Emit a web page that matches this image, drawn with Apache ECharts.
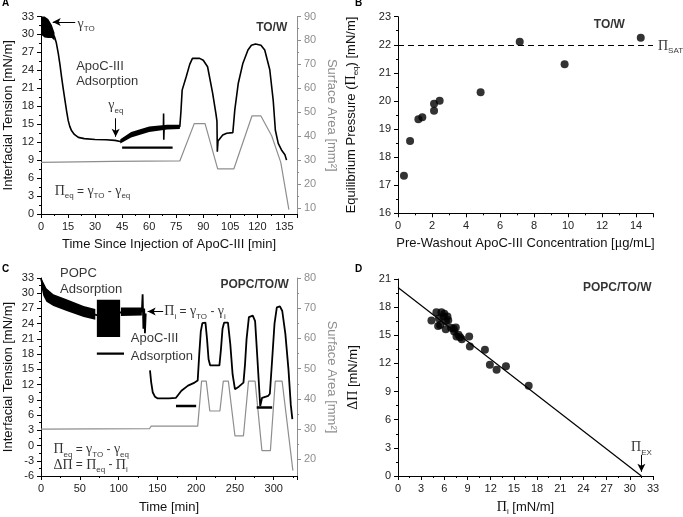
<!DOCTYPE html>
<html><head><meta charset="utf-8">
<script src="https://cdn.jsdelivr.net/npm/echarts/dist/echarts.min.js"></script>
<style>html,body{margin:0;padding:0;background:#fff}#c{width:683px;height:517px}</style>
</head><body><div id="c"></div>
<script>
// ---------------- DATA ----------------
// Panel A: interfacial tension [mN/m] vs time [min]
const tensionA = [[0,31.5],[2,31.2],[4,30.8],[6,30.3],[7.5,29.6],[8.5,28.6],[9.6,26.8],[10.5,25],[11.4,22.9],[12.3,21],[13.3,19],[14.2,17.2],[15.1,15.6],[16,14.6],[17,13.9],[18.5,13.3],[20.7,12.8],[24,12.6],[30,12.45],[36,12.4],[41,12.3],[44,12.1],[46,12.4],[49,13.0],[52,13.4],[56,13.8],[61,14.1],[66,14.3],[67.9,14.4],[68,16.8],[68.1,12.4],[68.3,14.4],[72,14.5],[77,14.6],[77.6,17],[78.3,20.7],[80.5,22.9],[82.5,25],[84,26],[88,26],[90,25.7],[92.4,24.6],[95.2,20.2],[97,16.8],[97.6,15.5],[97.8,10.4],[98.2,12.2],[100.8,13.2],[103,13.5],[106.4,13.6],[107.5,17.4],[109.4,21.8],[112,25.2],[114.8,27.4],[116.7,28.2],[119,28.4],[122,28.2],[124.1,27.4],[126.9,24.1],[128.8,19.0],[130,14.0],[131.6,11.8],[133.4,10.7],[135.3,9.9],[136.2,9.0]];
// noise envelopes [time, low, high]
const noiseA1 = [[0,30,33],[2,29.5,33],[4,29.4,32.6],[6,29.4,31.6],[7.5,29,30.3]];
const noiseA2 = [[44,11.8,12.5],[50,12.8,13.7],[60,13.7,14.6],[70,14.1,14.9],[77,14.2,14.9]];
// surface area [mm^2] vs time
const areaA = [[0,29],[40,29.4],[77,29.6],[85,45.2],[91,45.2],[98,26.3],[107,26.3],[117,48.4],[122,48.4],[128,40],[133,29],[137.5,9.2]];
const barA = [[45,11.1],[73,11.1]];

// Panel B: equilibrium pressure vs pre-washout concentration
const pressureB = [[0.35,17.34],[0.71,18.57],[1.2,19.35],[1.43,19.42],[2.12,19.65],[2.12,19.90],[2.45,20.01],[4.86,20.31],[7.16,22.11],[9.8,21.31],[14.28,22.25]];
const piSat = 22;

// Panel C: interfacial tension vs time
const tensionC = [[0,32.9],[3,31.0],[7.4,29.7],[16,28.7],[33,27.7],[55,26.4],[72,25.7],[102,26.2],[115,26.3],[130,26.4],[131,29.8],[132,23],[133,27],[134,22.1],[135,26],[136,null],[140.5,14.8],[142,12.5],[144,10.5],[147,9.6],[150,9.3],[165,9.3],[174,9.4],[178,10.2],[181,10.8],[189.5,11.8],[198,12.4],[202,12.8],[204,18],[206,22.5],[208,24.1],[212,24.2],[214,21],[216,17],[218,15.8],[230,15.8],[232,19],[234,23],[236,24.2],[241,24.2],[244,20],[247,14],[250,11.1],[255,11.6],[261,12.4],[263,16],[265,21],[268,25.3],[273,25.6],[276,24.5],[279,17],[282.6,7.8],[285,9.4],[293,9.8],[295,10.2],[298,17],[301,24],[304,27.2],[308,27.4],[311,26.5],[315,22],[319,15],[322,8],[324,5.2]];
const noiseC1 = [[0,31.5,33],[3,29.5,32.2],[7,28.3,31],[16,27.5,29.8],[33,26.5,28.8],[55,25.3,27.5],[70,24.8,26.9]];
const noiseC2 = [[72,21.4,28.7],[102,21.4,28.7]];
const noiseC3 = [[103,25.5,27.2],[130,25.6,27.2]];
const areaC = [[0,30],[140,30.2],[142,31],[202,31],[207,45.9],[213,45.9],[217.6,36],[230.6,36],[235,45.9],[241.5,45.9],[250,27.8],[261,27.8],[267.5,45.9],[276,45.9],[284.8,22.9],[295.7,22.9],[302,45.9],[310.8,45.9],[324.7,16.3]];
const barC1 = [[72,107],[18.1,18.1]];
const barC2 = [[174,200],[7.8,7.8]];
const barC3 = [[278,298],[7.5,7.5]];

// Panel D: delta Pi vs Pi_i
const deltaD = [[4.33,16.57],[4.97,17.46],[5.62,17.46],[5.19,16.0],[5.45,16.1],[5.3,16.8],[5.9,17.0],[6.0,17.3],[6.2,16.5],[6.5,16.6],[6.4,17.0],[6.18,15.65],[6.87,15.8],[7.2,15.7],[7.48,15.83],[7.26,15.4],[7.57,14.87],[7.83,15.05],[8.05,14.8],[8.26,14.59],[9.21,14.87],[9.3,13.81],[11.25,13.46],[11.89,11.86],[12.76,11.33],[13.97,11.69],[16.91,9.63]];
const fitD = [[0,20.1],[31.5,0]];

// tick labels for the right (surface area) axes
const areaTicksA = [10,20,30,40,50,60,70,80,90];
const areaMinorA = [15,25,35,45,55,65,75,85];
const areaTicksC = [20,30,40,50,60,70,80];
const areaMinorC = [25,35,45,55,65,75];

// ---------------- STYLE ----------------
const SANS = '"Liberation Sans", Arial, sans-serif';
const SERIF = '"Liberation Serif", "DejaVu Serif", serif';
const GRAY = '#8e8e8e';
const RICH = {
  g:{fontFamily:SERIF,fontSize:14,lineHeight:18,color:'#000'},
  t:{fontFamily:SANS,fontSize:12,lineHeight:18,color:'#000'},
  s:{fontFamily:SANS,fontSize:8,lineHeight:9,verticalAlign:'bottom',color:'#000'},
  b:{fontFamily:SANS,fontSize:12,fontWeight:'bold',lineHeight:18,color:'#000'}
};
const NRICH = {
  g:{fontFamily:SERIF,fontSize:14,lineHeight:18,color:'#111'},
  s:{fontFamily:SANS,fontSize:8,lineHeight:9,verticalAlign:'bottom',color:'#111'}
};

function merge(a,b){
  const o = Array.isArray(a)?a.slice():Object.assign({},a);
  for(const k in b){
    if(b[k] && typeof b[k]==='object' && !Array.isArray(b[k]) && a[k] && typeof a[k]==='object' && !Array.isArray(a[k])) o[k]=merge(a[k],b[k]);
    else o[k]=b[k];
  }
  return o;
}
function axis(o){
  return merge({
    type:'value', scale:false,
    axisLine:{show:true,onZero:false,lineStyle:{color:'#000',width:1}},
    axisTick:{show:true,inside:false,length:4,lineStyle:{color:'#000',width:1}},
    minorTick:{show:true,splitNumber:2,length:2,lineStyle:{color:'#000',width:1}},
    splitLine:{show:false}, minorSplitLine:{show:false},
    axisLabel:{fontFamily:SANS,fontSize:11,color:'#222',margin:7},
    nameLocation:'middle', nameMoveOverlap:false,
    nameTextStyle:{fontFamily:SANS,fontSize:13,color:'#111',lineHeight:18,rich:NRICH}
  }, o);
}
function grayAxis(o){
  return axis(merge({
    position:'right',
    axisLine:{lineStyle:{color:GRAY}},
    axisTick:{lineStyle:{color:GRAY}},
    minorTick:{show:false},
    axisLabel:{color:GRAY},
    nameRotate:-90,
    nameTextStyle:{color:GRAY}
  }, o));
}
function ghostAxis(o){
  return axis(merge({
    position:'right', axisLine:{show:false}, axisLabel:{show:false},
    minorTick:{show:false}, axisTick:{length:2,lineStyle:{color:GRAY}}
  }, o));
}
function line(xi,yi,data,color,width,extra){
  return merge({type:'line',xAxisIndex:xi,yAxisIndex:yi,data:data,showSymbol:false,symbol:'none',
    connectNulls:false,clip:false,silent:true,lineStyle:{color:color,width:width},z:3}, extra||{});
}
function band(xi,yi,env){
  return {type:'custom',xAxisIndex:xi,yAxisIndex:yi,data:[[env[0][0],env[0][1]]],silent:true,z:2,
    renderItem:function(params,api){
      const up = env.map(r=>api.coord([r[0],r[2]]));
      const lo = env.map(r=>api.coord([r[0],r[1]])).reverse();
      return {type:'polygon',shape:{points:up.concat(lo)},style:{fill:'#000'}};
    }};
}
function note(xi,yi,x,y,text,pos,lab,extra){
  return merge({type:'scatter',xAxisIndex:xi,yAxisIndex:yi,symbolSize:0,silent:true,clip:false,z:10,
    data:[[x,y]],
    label:merge({show:true,position:pos||'inside',distance:0,formatter:text,rich:RICH,
      fontFamily:SANS,fontSize:12,color:'#000',lineHeight:18}, lab||{})}, extra||{});
}
function arrows(list){
  return {silent:true,symbol:['none','arrow'],symbolSize:[6,8],label:{show:false},emphasis:{disabled:true},
    lineStyle:{color:'#000',width:1,type:'solid'},
    data:list.map(p=>[{coord:p[0]},{coord:p[1]}])};
}
const zip = (xs,ys)=>xs.map((x,i)=>[x,ys[i]]);

// ---------------- OPTION ----------------
const letter = (t,l,tp)=>({text:t,left:l,top:tp,padding:0,textStyle:{fontFamily:SANS,fontSize:10,fontWeight:'bold',color:'#000'}});

const option = {
  animation:false,
  backgroundColor:'#fff',
  title:[letter('A',2,-2),letter('B',355,-2),letter('C',2,264),letter('D',355,264)],
  grid:[
    {left:41,top:16.5,width:256,height:197.5,outerBoundsMode:'none',containLabel:false},
    {left:398,top:16.7,width:255,height:196.6,outerBoundsMode:'none',containLabel:false},
    {left:41,top:278,width:256,height:198,outerBoundsMode:'none',containLabel:false},
    {left:398,top:279,width:255,height:197,outerBoundsMode:'none',containLabel:false}
  ],
  xAxis:[
    axis({gridIndex:0,min:0,max:142,interval:15,axisLabel:{showMaxLabel:false},name:'Time Since Injection of ApoC-III [min]',nameGap:21}),
    axis({gridIndex:1,min:0,max:15,interval:2,axisLabel:{showMaxLabel:false},name:'Pre-Washout ApoC-III Concentration [{g|μ}g/mL]',nameGap:21}),
    axis({gridIndex:2,min:0,max:330,interval:50,axisLabel:{showMaxLabel:false},name:'Time [min]',nameGap:22}),
    axis({gridIndex:3,min:0,max:33,interval:3,name:'{g|Π}{s|i} [mN/m]',nameGap:22})
  ],
  yAxis:[
    axis({gridIndex:0,min:0,max:33,interval:3,name:'Interfacial Tension [mN/m]',nameGap:24}),
    grayAxis({gridIndex:0,min:7.4,max:90,axisLabel:{customValues:areaTicksA},axisTick:{customValues:areaTicksA},name:'Surface Area [mm²]',nameGap:26}),
    axis({gridIndex:1,min:16,max:23,interval:1,name:'Equilibrium Pressure ({g|Π}{s|eq}) [mN/m]',nameGap:38}),
    axis({gridIndex:2,min:-6,max:33,interval:3,name:'Interfacial Tension [mN/m]',nameGap:24}),
    grayAxis({gridIndex:2,min:14.5,max:80,axisLabel:{customValues:areaTicksC},axisTick:{customValues:areaTicksC},name:'Surface Area [mm²]',nameGap:26}),
    axis({gridIndex:3,min:0,max:21,interval:3,name:'{g|ΔΠ} [mN/m]',nameGap:36}),
    ghostAxis({gridIndex:0,min:7.4,max:90,axisTick:{customValues:areaMinorA}}),
    ghostAxis({gridIndex:2,min:14.5,max:80,axisTick:{customValues:areaMinorC}})
  ],
  series:[
    // ---- A ----
    line(0,1,areaA,GRAY,1.2),
    band(0,0,noiseA1), band(0,0,noiseA2),
    line(0,0,tensionA,'#000',1.6),
    line(0,0,barA,'#000',2.2),
    note(0,0,20.3,31.7,'{g|γ}{s|TO}','right',null,{markLine:arrows([[[19,32.1],[6.5,32.1]]])}),
    note(0,0,19.5,23.4,'ApoC-III\nAdsorption','right',{fontSize:13,lineHeight:15}),
    note(0,0,41.5,18.1,'{g|γ}{s|eq}','inside',null,{markLine:arrows([[[41.4,16.0],[41.4,12.9]]])}),
    note(0,0,7.6,3.8,'{g|Π}{s|eq}{t| = }{g|γ}{s|TO}{t| - }{g|γ}{s|eq}','right'),
    note(0,0,136.6,31.2,'{b|TO/W}','left'),
    // ---- B ----
    {type:'scatter',xAxisIndex:1,yAxisIndex:2,data:pressureB,symbol:'circle',symbolSize:8,silent:true,
      itemStyle:{color:'#000'},z:4,
      markLine:{silent:true,symbol:'none',label:{show:false},emphasis:{disabled:true},
        lineStyle:{color:'#000',width:1.2,type:[6,4]},data:[{yAxis:piSat}]}},
    note(1,2,15,21.95,'{g|Π}{s|SAT}','right',{distance:5}),
    note(1,2,13.35,22.7,'{b|TO/W}','left'),
    // ---- C ----
    line(2,4,areaC,GRAY,1.2),
    band(2,3,noiseC1), band(2,3,noiseC2), band(2,3,noiseC3),
    line(2,3,tensionC,'#000',1.8),
    line(2,3,zip(barC1[0],barC1[1]),'#000',2.4),
    line(2,3,zip(barC2[0],barC2[1]),'#000',2.4),
    line(2,3,zip(barC3[0],barC3[1]),'#000',2.4),
    note(2,3,24.5,32.35,'POPC\nAdsorption','right',{fontSize:13,lineHeight:16}),
    note(2,3,159,26.4,'{g|Π}{s|i}{t| = }{g|γ}{s|TO}{t| - }{g|γ}{s|i}','right',null,{markLine:arrows([[[157.5,26.4],[137.5,26.4]]])}),
    note(2,3,115.7,19.25,'ApoC-III\nAdsorption','right',{fontSize:13,lineHeight:18}),
    note(2,3,319.5,31.7,'{b|POPC/TO/W}','left'),
    note(2,3,16,-0.8,'{g|Π}{s|eq}{t| = }{g|γ}{s|TO}{t| - }{g|γ}{s|eq}','right'),
    note(2,3,16,-3.8,'{g|ΔΠ}{t| = }{g|Π}{s|eq}{t| - }{g|Π}{s|i}','right'),
    // ---- D ----
    line(3,5,fitD,'#000',1.2),
    {type:'scatter',xAxisIndex:3,yAxisIndex:5,data:deltaD,symbol:'circle',symbolSize:8,silent:true,itemStyle:{color:'#000'},z:4},
    note(3,5,32.8,20.08,'{b|POPC/TO/W}','left'),
    note(3,5,31.5,3.05,'{g|Π}{s|EX}','inside',null,{markLine:arrows([[[31.5,2.25],[31.5,0.45]]])})
  ]
};

const chart = echarts.init(document.getElementById('c'),null,{renderer:'canvas',width:683,height:517});
chart.setOption(option);
</script>
</body></html>
